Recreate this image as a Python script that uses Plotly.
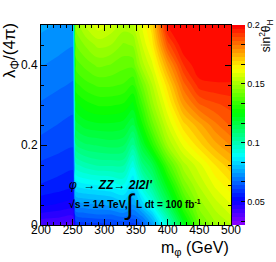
import colorsys
import plotly.graph_objects as go

# ---- data ----
m_phi = [200, 225, 251, 255, 270, 290, 310, 330, 345, 360, 375, 400, 425, 450, 475, 500]
lam = [0.0, 0.025, 0.05, 0.1, 0.15, 0.2, 0.25, 0.3, 0.35, 0.4, 0.45, 0.5]

# sin^2(theta_H) columns, one list per m_phi value (bottom -> top in lambda)
col_200 = [0.040, 0.046, 0.051, 0.057, 0.060, 0.063, 0.065, 0.067, 0.069, 0.071, 0.073, 0.075]
col_225 = [0.040, 0.045, 0.050, 0.056, 0.059, 0.062, 0.064, 0.066, 0.068, 0.070, 0.072, 0.074]
col_251 = [0.039, 0.044, 0.049, 0.055, 0.058, 0.061, 0.063, 0.065, 0.067, 0.069, 0.071, 0.073]
col_255 = [0.058, 0.065, 0.072, 0.085, 0.097, 0.108, 0.117, 0.124, 0.131, 0.137, 0.142, 0.147]
col_270 = [0.059, 0.066, 0.073, 0.087, 0.100, 0.111, 0.120, 0.127, 0.134, 0.140, 0.146, 0.153]
col_290 = [0.059, 0.067, 0.074, 0.088, 0.102, 0.112, 0.121, 0.129, 0.136, 0.143, 0.150, 0.158]
col_310 = [0.060, 0.067, 0.075, 0.089, 0.102, 0.113, 0.121, 0.129, 0.136, 0.142, 0.149, 0.155]
col_330 = [0.061, 0.069, 0.078, 0.091, 0.102, 0.112, 0.120, 0.128, 0.135, 0.140, 0.145, 0.151]
col_345 = [0.059, 0.067, 0.074, 0.084, 0.092, 0.104, 0.115, 0.124, 0.132, 0.140, 0.146, 0.152]
col_360 = [0.064, 0.072, 0.082, 0.095, 0.107, 0.118, 0.128, 0.135, 0.142, 0.151, 0.156, 0.160]
col_375 = [0.073, 0.081, 0.091, 0.104, 0.114, 0.130, 0.140, 0.147, 0.152, 0.158, 0.164, 0.168]
col_400 = [0.095, 0.103, 0.112, 0.124, 0.136, 0.149, 0.156, 0.162, 0.168, 0.177, 0.188, 0.198]
col_425 = [0.120, 0.127, 0.133, 0.143, 0.151, 0.160, 0.168, 0.177, 0.185, 0.193, 0.200, 0.200]
col_450 = [0.140, 0.144, 0.147, 0.153, 0.158, 0.168, 0.175, 0.186, 0.195, 0.200, 0.200, 0.200]
col_475 = [0.148, 0.151, 0.154, 0.160, 0.166, 0.175, 0.182, 0.189, 0.196, 0.200, 0.200, 0.200]
col_500 = [0.152, 0.156, 0.159, 0.165, 0.172, 0.180, 0.187, 0.191, 0.196, 0.200, 0.200, 0.200]

columns = [col_200, col_225, col_251, col_255, col_270, col_290, col_310, col_330,
           col_345, col_360, col_375, col_400, col_425, col_450, col_475, col_500]
z = [[columns[j][i] for j in range(len(m_phi))] for i in range(len(lam))]

x_ticks = [200, 250, 300, 350, 400, 450, 500]
y_ticks = [0, 0.2, 0.4]
cb_ticks = [0.05, 0.1, 0.15, 0.2]
z_min, z_max = 0.03, 0.2

# ---- ROOT "pretty" palette: HLS hue 280 -> 0, 50 colours ----
n_col = 50
colorscale = []
for i in range(n_col):
    hue = 280.0 - (i + 1) * 280.0 / n_col
    r, g, b = colorsys.hls_to_rgb(hue / 360.0, 0.5, 1.0)
    colorscale.append([i / (n_col - 1), f"rgb({int(r*255)},{int(g*255)},{int(b*255)})"])

# colorbar tick values incl. minor ones (unlabelled)
cb_vals, cb_text = [], []
for k in range(2, 13):
    v = round(k * 0.05 / 3, 5)
    if v < z_min or v > z_max + 1e-9:
        continue
    cb_vals.append(v)
    lab = ""
    for t in cb_ticks:
        if abs(t - v) < 1e-6:
            lab = f"{t:g}"
    cb_text.append(lab)

FONT = "Liberation Sans, Arial, Helvetica, sans-serif"

fig = go.Figure()
fig.add_trace(go.Contour(
    x=m_phi, y=lam, z=z,
    colorscale=colorscale,
    zmin=z_min, zmax=z_max, zauto=False, autocontour=False,
    contours=dict(start=z_min, end=z_max, size=(z_max - z_min) / 50, coloring="fill", showlines=False),
    line=dict(width=0),
    colorbar=dict(
        x=1.005, xanchor="left", xpad=0, y=0.5, yanchor="middle", len=1, lenmode="fraction",
        ypad=0, thickness=13, outlinewidth=0,
        tickmode="array", tickvals=cb_vals, ticktext=cb_text,
        ticks="inside", ticklen=4, tickcolor="black",
        tickfont=dict(family=FONT, size=9, color="black"),
    ),
    hoverinfo="skip",
))

axis_common = dict(
    showline=True, linecolor="black", linewidth=1, mirror="ticks", automargin=False,
    ticks="inside", ticklen=6, tickcolor="black", showgrid=False, zeroline=False,
    tickfont=dict(family=FONT, size=12, color="black"),
)
fig.update_xaxes(range=[200, 500], tickvals=x_ticks, ticklabelstandoff=-6,
                 minor=dict(dtick=10, tick0=200, ticks="inside", ticklen=3, tickcolor="black"),
                 **axis_common)
fig.update_yaxes(range=[0, 0.5], tickvals=y_ticks,
                 minor=dict(dtick=0.05, tick0=0, ticks="inside", ticklen=3, tickcolor="black"),
                 **axis_common)

annotations = [
    dict(text="m<sub>φ</sub> (GeV)", x=1.0, y=-0.115, xref="paper", yref="paper",
         xanchor="right", yanchor="middle", showarrow=False,
         font=dict(family=FONT, size=16, color="black")),
    dict(text="λ<sub>Φ</sub>/(4π)", x=-0.158, y=0.875, xref="paper", yref="paper",
         xanchor="center", yanchor="middle", textangle=-90, showarrow=False,
         font=dict(family=FONT, size=17, color="black")),
    dict(text="sin<sup>2</sup>θ<sub>H</sub>", x=1.185, y=0.945, xref="paper", yref="paper",
         xanchor="center", yanchor="middle", textangle=-90, showarrow=False,
         font=dict(family=FONT, size=12, color="black")),
    dict(text="<i>φ</i>\u00a0\u00a0→ <b><i>ZZ</i></b>→ <b><i>2l2l'</i></b>", x=0.135, y=0.2,
         xref="paper", yref="paper", xanchor="left", yanchor="middle", showarrow=False,
         font=dict(family=FONT, size=12, color="black")),
    dict(text="<b>√s = 14 TeV,</b>", x=0.135, y=0.105, xref="paper", yref="paper",
         xanchor="left", yanchor="middle", showarrow=False,
         font=dict(family=FONT, size=10.5, color="black")),
    dict(text="∫", x=0.466, y=0.105, xref="paper", yref="paper",
         xanchor="center", yanchor="middle", showarrow=False,
         font=dict(family=FONT, size=28, color="black")),
    dict(text="<b>L dt = 100 fb<sup>-1</sup></b>", x=0.488, y=0.105, xref="paper", yref="paper",
         xanchor="left", yanchor="middle", showarrow=False,
         font=dict(family=FONT, size=10, color="black")),
]

fig.update_layout(
    width=276, height=262,
    margin=dict(l=41, r=45, t=25, b=37, autoexpand=False),
    paper_bgcolor="white", plot_bgcolor="white",
    annotations=annotations,
    showlegend=False,
)

fig.write_html("out.html", config={"displayModeBar": False, "staticPlot": True},
               post_script="document.body.style.margin='0px';document.body.style.padding='0px';")
